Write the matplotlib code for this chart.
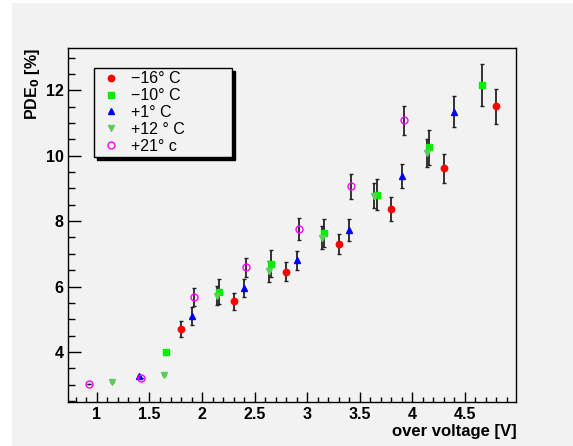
import numpy as np
import matplotlib.pyplot as plt
from matplotlib.ticker import MultipleLocator
from matplotlib.patches import Rectangle

# data
x_m16 = [1.80, 2.30, 2.80, 3.30, 3.80, 4.30, 4.80]
y_m16 = [4.71, 5.55, 6.46, 7.31, 8.38, 9.61, 11.51]
e_m16 = [0.24, 0.26, 0.28, 0.30, 0.37, 0.43, 0.53]

x_m10 = [1.66, 2.16, 2.66, 3.16, 3.66, 4.16, 4.66]
y_m10 = [4.01, 5.84, 6.70, 7.63, 8.81, 10.26, 12.15]
e_m10 = [0.0, 0.38, 0.41, 0.43, 0.47, 0.53, 0.64]

x_p1 = [1.40, 1.90, 2.40, 2.90, 3.40, 3.90, 4.40]
y_p1 = [3.27, 5.10, 5.95, 6.80, 7.72, 9.38, 11.34]
e_p1 = [0.0, 0.26, 0.27, 0.29, 0.33, 0.38, 0.47]

x_p12 = [1.14, 1.64, 2.14, 2.64, 3.14, 3.64, 4.14]
y_p12 = [3.09, 3.29, 5.72, 6.47, 7.49, 8.78, 10.08]
e_p12 = [0.0, 0.0, 0.29, 0.32, 0.35, 0.39, 0.44]

x_p21 = [0.92, 1.42, 1.92, 2.42, 2.92, 3.42, 3.92]
y_p21 = [3.01, 3.22, 5.69, 6.59, 7.77, 9.07, 11.08]
e_p21 = [0.0, 0.0, 0.27, 0.29, 0.34, 0.38, 0.45]

labels = ['\u221216\u00b0 C', '\u221210\u00b0 C', '+1\u00b0 C', '+12 \u00b0 C', '+21\u00b0 c']

plt.rcParams['font.family'] = ['Liberation Sans', 'DejaVu Sans']

bg = '#f2f2f2'
fig = plt.figure(figsize=(5.73, 4.46), dpi=100, facecolor='white')
# grey canvas with a thin white strip at the top and left
fig.patches.append(Rectangle((12 / 573, 0), 1, 1 - 3 / 446, transform=fig.transFigure,
                             facecolor=bg, edgecolor='none', zorder=-10))
ax = fig.add_axes([0.1187, 0.0993, 0.7824, 0.7937])
ax.set_facecolor(bg)

series = [
    (x_m16, y_m16, e_m16, 'o', '#ff0000', '#ff0000', 4.6),
    (x_m10, y_m10, e_m10, 's', '#00ee00', '#00ee00', 4.4),
    (x_p1, y_p1, e_p1, '^', '#0000ff', '#0000ff', 4.6),
    (x_p12, y_p12, e_p12, 'v', '#5ccc5c', '#5ccc5c', 4.6),
    (x_p21, y_p21, e_p21, 'o', 'none', '#ff00ff', 5.0),
]

handles = []
for (xs, ys, es, mk, fc, ec, ms), lab in zip(series, labels):
    ax.errorbar(xs, ys, yerr=es, fmt='none', ecolor='#222222', elinewidth=1.3,
                capsize=1.5, capthick=1, zorder=2)
    h, = ax.plot(xs, ys, linestyle='none', marker=mk, markersize=ms,
                 markerfacecolor=fc, markeredgecolor=ec, markeredgewidth=1.0,
                 label=lab, zorder=3)
    handles.append(h)

ax.set_xlim(0.725, 4.99)
ax.set_ylim(2.48, 13.3)
ax.xaxis.set_minor_locator(MultipleLocator(0.1))
ax.yaxis.set_major_locator(MultipleLocator(2))
ax.yaxis.set_minor_locator(MultipleLocator(0.5))
ax.set_xticks([1, 1.5, 2, 2.5, 3, 3.5, 4, 4.5])
ax.set_xticklabels(['1', '1.5', '2', '2.5', '3', '3.5', '4', '4.5'])

ax.tick_params(axis='x', which='major', direction='in', length=7.2, width=1,
               pad=4, labelsize=11.5)
ax.tick_params(axis='x', which='minor', direction='in', length=3.6, width=1)
ax.tick_params(axis='y', which='major', direction='in', length=9.4, width=1,
               pad=3, labelsize=11.5)
ax.tick_params(axis='y', which='minor', direction='in', length=4.8, width=1)
for lab in ax.get_xticklabels() + ax.get_yticklabels():
    lab.set_fontweight('bold')

for sp in ax.spines.values():
    sp.set_linewidth(1.0)
    sp.set_color('black')

ax.set_xlabel('over voltage [V]', fontsize=12, fontweight='bold', loc='right',
              labelpad=1)
ax.set_ylabel('PDE$_\\mathbf{0}$ [%]', fontsize=11.5, fontweight='bold', loc='top',
              labelpad=3)

leg = ax.legend(handles=handles, loc='upper left', mode='expand',
                bbox_to_anchor=(0.0587, 0.695, 0.3078, 0.2485),
                fontsize=11.5, frameon=True, fancybox=False, borderpad=0.22,
                labelspacing=0.12, handletextpad=0.5, handlelength=1.6,
                borderaxespad=0,
                shadow={'color': 'black', 'alpha': 1.0})
leg.get_frame().set_facecolor(bg)
leg.get_frame().set_edgecolor('black')
leg.get_frame().set_linewidth(1.0)

fig.savefig('out.png', dpi=100, facecolor=fig.get_facecolor())
